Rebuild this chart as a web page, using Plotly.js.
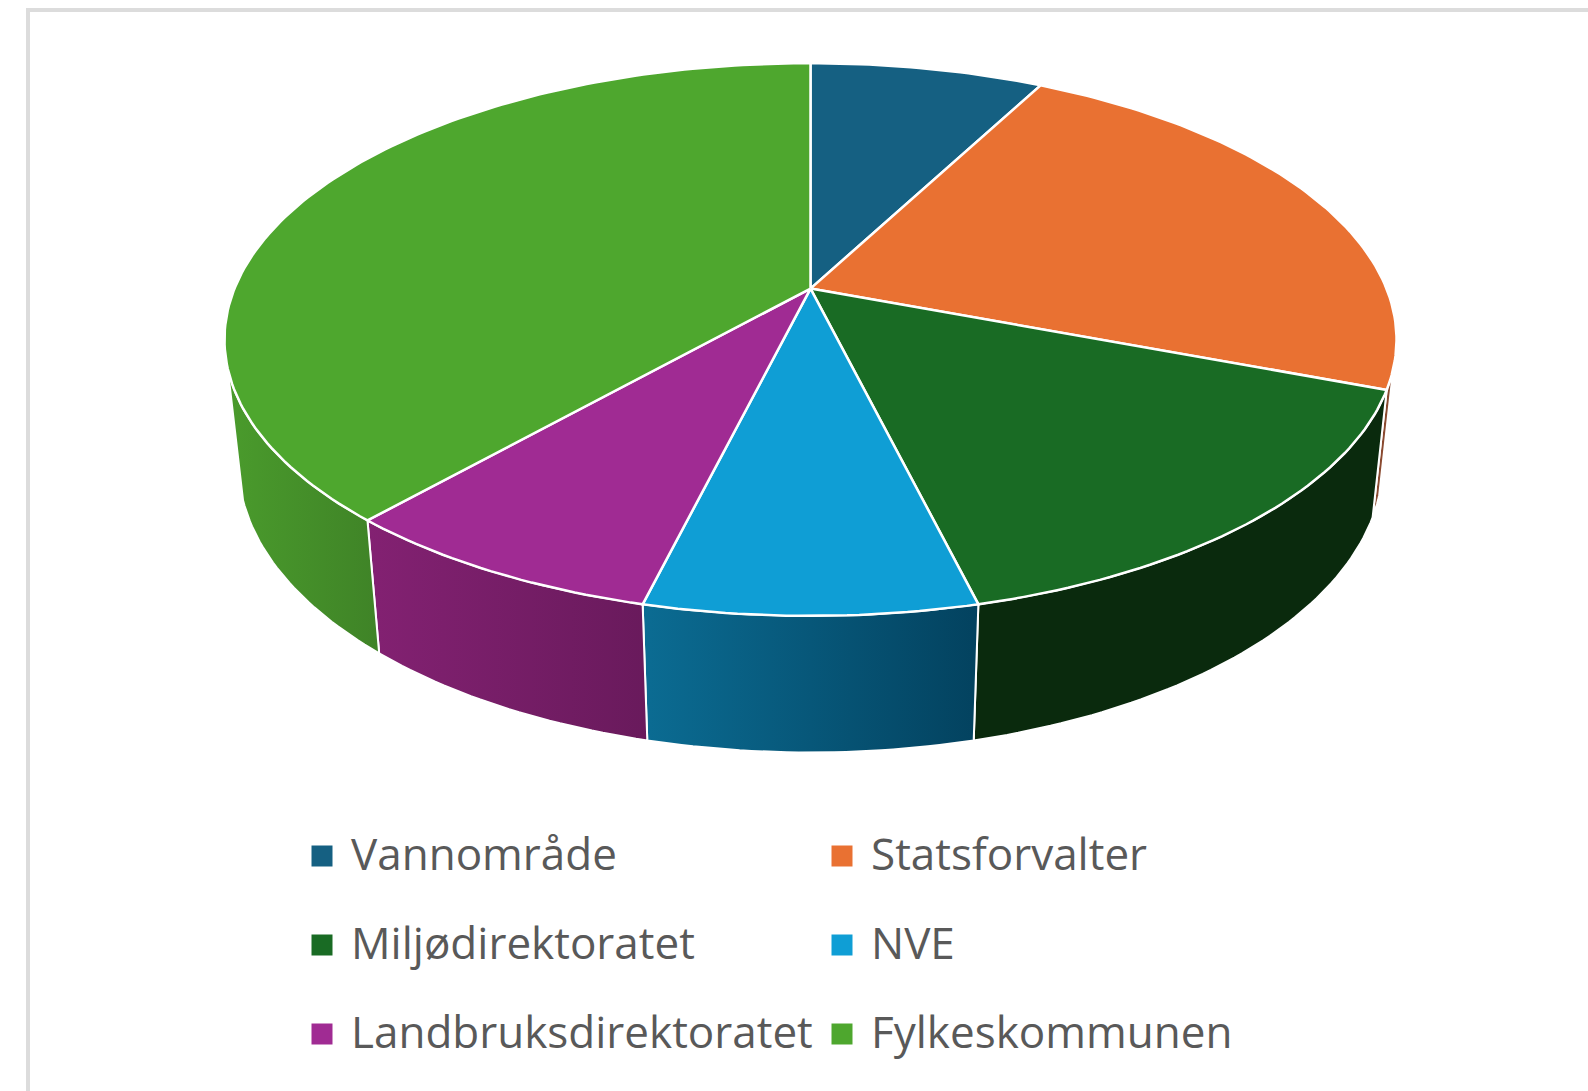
<!DOCTYPE html>
<html>
<head>
<meta charset="utf-8">
<script src="https://cdn.plot.ly/plotly-3.0.1.min.js"></script>
<style>html,body{margin:0;padding:0;background:#fff;overflow:hidden}#chart{width:1588px;height:1091px}</style>
</head>
<body>
<div id="chart"></div>
<script>
// Data
const categories = ["Vannområde", "Statsforvalter", "Miljødirektoratet", "NVE", "Landbruksdirektoratet", "Fylkeskommunen"];
const values = [1, 3, 2, 1, 1, 5];
// Styles
const topColors = ["#156082", "#E97132", "#196B24", "#0F9ED5", "#A02B93", "#4EA72E"];
const wallFrom = [null, "#8a4a30", "#0a2a0d", "#0b6c93", "#832172", "#4a9b2c"];
const wallTo = [null, "#8a4a30", "#0a2a0d", "#03425f", "#691a5c", "#3f8327"];
// Perspective discs: apex position, half-width factor, depth factor, perspective
const topDisc = {cx: 810.5, cy: 288.6, a: 576, b: 267, k: 0.1842};
const botDisc = {cx: 810.5, cy: 411.5, a: 562.8, b: 279.6, k: 0.18};
const wallStart = 106.5, wallEnd = 253.5; // visible front arc, degrees clockwise from top
// Legend layout
const legendCols = [322, 842], legendRows = [856, 945, 1034], textCols = [349, 869], textRows = [853, 942, 1031];

const rad = d => d * Math.PI / 180;
function project(disc, deg) {
  const x = Math.sin(rad(deg)), y = Math.cos(rad(deg)), w = 1 + disc.k * y;
  return [disc.cx + disc.a * x / w, disc.cy - disc.b * y / w];
}
function arc(disc, from, to) {
  const n = Math.max(2, Math.ceil(Math.abs(to - from))), pts = [];
  for (let i = 0; i <= n; i++) pts.push(project(disc, from + (to - from) * i / n));
  return pts;
}
const total = values.reduce((s, v) => s + v, 0);
let acc = 0;
const angles = values.map(v => { const s = acc; acc += v; return [s / total * 360, acc / total * 360]; });

const traces = [];
// Walls first
angles.forEach(([s, e], i) => {
  const from = Math.max(s, wallStart), to = Math.min(e, wallEnd);
  if (to <= from) return;
  const pts = arc(topDisc, from, to).concat(arc(botDisc, to, from));
  pts.push(pts[0]);
  traces.push({
    type: "scatter", mode: "lines", x: pts.map(p => p[0]), y: pts.map(p => p[1]),
    fill: "toself", fillcolor: wallFrom[i],
    fillgradient: {type: "horizontal", colorscale: [[0, wallFrom[i]], [1, wallTo[i]]]},
    line: {color: "#ffffff", width: 2, shape: "linear"},
    hoverinfo: "skip", showlegend: false
  });
});
// Top faces
angles.forEach(([s, e], i) => {
  const pts = [[topDisc.cx, topDisc.cy]].concat(arc(topDisc, s, e));
  pts.push(pts[0]);
  traces.push({
    type: "scatter", mode: "lines", x: pts.map(p => p[0]), y: pts.map(p => p[1]),
    fill: "toself", fillcolor: topColors[i], line: {color: "#ffffff", width: 2.5},
    name: categories[i], text: String(values[i]), hoverinfo: "name+text", showlegend: false
  });
});
// Legend swatches and text
const annotations = [];
categories.forEach((c, i) => {
  const col = i % 2, row = Math.floor(i / 2);
  traces.push({
    type: "scatter", mode: "markers", x: [legendCols[col]], y: [legendRows[row]],
    marker: {symbol: "square", size: 21, color: topColors[i]},
    name: c, hoverinfo: "name", showlegend: false
  });
  annotations.push({
    x: textCols[col], y: textRows[row], xref: "x", yref: "y", text: c, showarrow: false,
    xanchor: "left", yanchor: "middle", font: {family: "'Open Sans', sans-serif", size: 44, color: "#595959"}
  });
});

const layout = {
  width: 1588, height: 1091, autosize: false,
  margin: {l: 0, r: 0, t: 0, b: 0, pad: 0},
  paper_bgcolor: "#ffffff", plot_bgcolor: "#ffffff", showlegend: false,
  xaxis: {range: [0, 1588], visible: false, fixedrange: true},
  yaxis: {range: [1091, 0], visible: false, fixedrange: true},
  annotations,
  shapes: [{type: "path", path: "M 28 1100 L 28 10 L 1600 10", xref: "x", yref: "y",
    line: {color: "#dcdcdc", width: 4}, layer: "below"}]
};
Plotly.newPlot("chart", traces, layout, {displayModeBar: false, responsive: false});
</script>
</body>
</html>
